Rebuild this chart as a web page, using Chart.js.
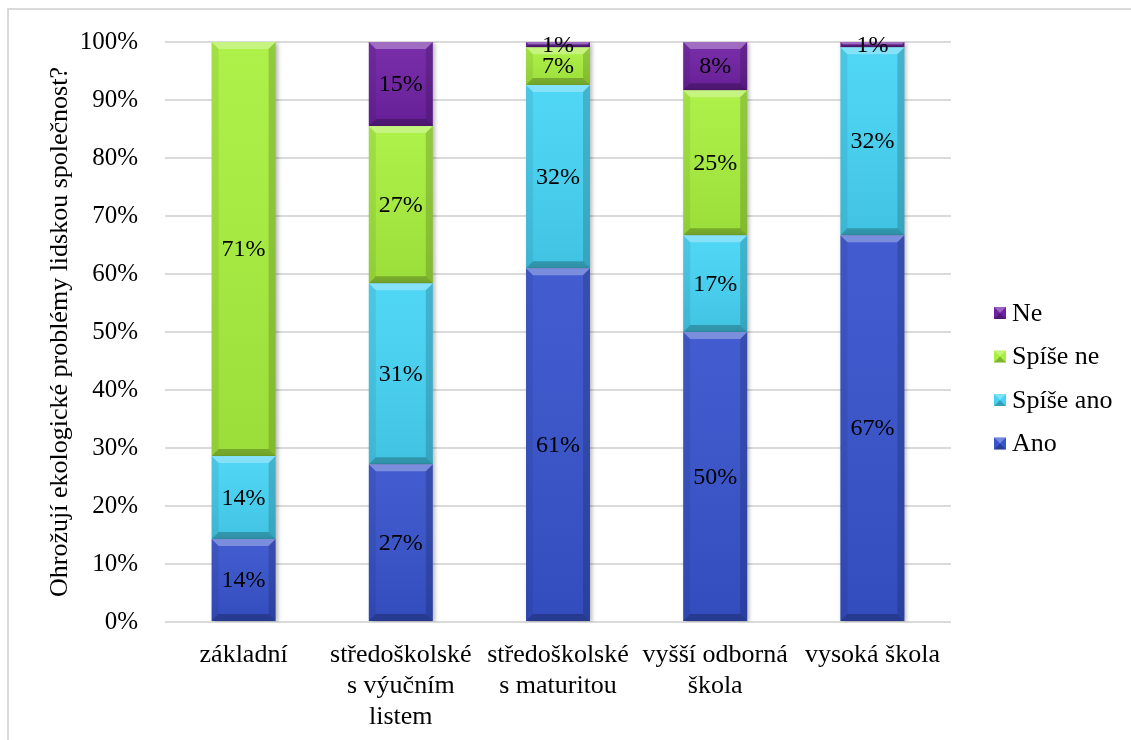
<!DOCTYPE html>
<html lang="cs">
<head>
<meta charset="utf-8">
<title>Ohrožují ekologické problémy lidskou společnost?</title>
<script src="https://cdn.jsdelivr.net/npm/chart.js@4.4.1/dist/chart.umd.min.js"></script>
<style>
  html, body { margin: 0; padding: 0; background: #fff; }
  #chart { display: block; }
  .preload { font-family: "Liberation Serif"; position: absolute; left: -9999px; top: 0; font-size: 24px; }
</style>
</head>
<body>
<span class="preload">Ohrožují 100% Spíše ne</span>
<canvas id="chart" width="1131" height="740"></canvas>
<script>
// vzdělání respondentů (kategorie osy x)
const categories = [
  'základní',
  ['středoškolské', 's výučním', 'listem'],
  ['středoškolské', 's maturitou'],
  ['vyšší odborná', 'škola'],
  'vysoká škola'
];

// podíly odpovědí v % (sloupce do 100 %)
const ano      = [14.3, 27.2, 61.0, 50.0, 66.7];
const spiseAno = [14.3, 31.2, 31.6, 16.7, 32.4];
const spiseNe  = [71.4, 27.1,  6.5, 25.0,  0.0];
const ne       = [ 0.0, 14.5,  0.9,  8.3,  0.9];

const yTicks = [0, 10, 20, 30, 40, 50, 60, 70, 80, 90, 100];

const FONT = '"Liberation Serif", "Times New Roman", "DejaVu Serif", serif';

// white background + thin frame
const framePlugin = {
  id: 'frame',
  beforeDraw(chart) {
    const ctx = chart.ctx;
    ctx.save();
    ctx.fillStyle = '#fff';
    ctx.fillRect(0, 0, chart.width, chart.height);
    ctx.strokeStyle = '#d9d9d9';
    ctx.lineWidth = 2;
    ctx.strokeRect(8, 9, chart.width + 20, chart.height + 20);
    ctx.restore();
  }
};

// soft drop shadow under the bars
const shadowPlugin = {
  id: 'barShadow',
  beforeDatasetsDraw(chart) {
    const ctx = chart.ctx;
    ctx.save();
    ctx.shadowColor = 'rgba(0,0,0,0.28)';
    ctx.shadowBlur = 4;
    ctx.shadowOffsetX = 2;
    ctx.shadowOffsetY = 1;
  },
  afterDatasetsDraw(chart) {
    chart.ctx.restore();
  }
};

// bevel look on every bar segment
const bevelPlugin = {
  id: 'bevel',
  afterDatasetsDraw(chart) {
    const ctx = chart.ctx;
    chart.data.datasets.forEach((ds, di) => {
      const meta = chart.getDatasetMeta(di);
      meta.data.forEach((bar, i) => {
        if (!ds.data[i]) return;
        const p = bar.getProps(['x', 'y', 'base', 'width'], true);
        const l = p.x - p.width / 2, r = p.x + p.width / 2;
        const t = Math.min(p.y, p.base), b = Math.max(p.y, p.base);
        const e = Math.min(7, (b - t) / 2);
        ctx.save();
        const g = ctx.createLinearGradient(0, t, 0, b);
        g.addColorStop(0, 'rgba(255,255,255,0.06)');
        g.addColorStop(1, 'rgba(0,0,0,0.08)');
        ctx.fillStyle = g;
        ctx.fillRect(l, t, r - l, b - t);
        const poly = (pts, fill) => {
          ctx.beginPath();
          ctx.moveTo(pts[0][0], pts[0][1]);
          for (let k = 1; k < pts.length; k++) ctx.lineTo(pts[k][0], pts[k][1]);
          ctx.closePath();
          ctx.fillStyle = fill;
          ctx.fill();
        };
        poly([[l, t], [r, t], [r - e, t + e], [l + e, t + e]], 'rgba(255,255,255,0.3)');
        poly([[l, b], [r, b], [r - e, b - e], [l + e, b - e]], 'rgba(0,0,0,0.24)');
        poly([[l, t], [l + e, t + e], [l + e, b - e], [l, b]], 'rgba(0,0,0,0.07)');
        poly([[r, t], [r - e, t + e], [r - e, b - e], [r, b]], 'rgba(0,0,0,0.16)');
        ctx.restore();
      });
    });
  }
};

// percentage labels in the middle of each segment
const valueLabels = {
  id: 'valueLabels',
  afterDatasetsDraw(chart) {
    const ctx = chart.ctx;
    ctx.save();
    ctx.font = '24px ' + FONT;
    ctx.fillStyle = '#000';
    ctx.textAlign = 'center';
    ctx.textBaseline = 'middle';
    chart.data.datasets.forEach((ds, di) => {
      chart.getDatasetMeta(di).data.forEach((bar, i) => {
        const v = ds.data[i];
        if (!v) return;
        const p = bar.getProps(['x', 'y', 'base'], true);
        ctx.fillText(Math.round(v) + '%', p.x, (p.y + p.base) / 2 + 1);
      });
    });
    ctx.restore();
  }
};

// legend on the right, top-down from the last series
const sideLegend = {
  id: 'sideLegend',
  afterDraw(chart) {
    const ctx = chart.ctx;
    const items = chart.data.datasets.slice().reverse();
    ctx.save();
    ctx.font = '26px ' + FONT;
    ctx.textBaseline = 'middle';
    items.forEach((ds, k) => {
      const cy = 313 + k * 43.5;
      const bx = 994, by = cy - 6, s = 12;
      ctx.fillStyle = ds.backgroundColor;
      ctx.fillRect(bx, by, s, s);
      ctx.fillStyle = 'rgba(255,255,255,0.3)';
      ctx.beginPath();
      ctx.moveTo(bx, by); ctx.lineTo(bx + s, by); ctx.lineTo(bx + s / 2, by + s / 2); ctx.closePath();
      ctx.fill();
      ctx.fillStyle = 'rgba(0,0,0,0.25)';
      ctx.beginPath();
      ctx.moveTo(bx, by + s); ctx.lineTo(bx + s, by + s); ctx.lineTo(bx + s / 2, by + s / 2); ctx.closePath();
      ctx.fill();
      ctx.fillStyle = '#000';
      ctx.fillText(ds.label, 1012, cy + 1);
    });
    ctx.restore();
  }
};

function series(label, data, color) {
  return {
    label,
    data,
    backgroundColor: color,
    borderWidth: 0,
    categoryPercentage: 1,
    barPercentage: 0.407
  };
}

function draw() {
  new Chart(document.getElementById('chart'), {
    type: 'bar',
    data: {
      labels: categories,
      datasets: [
        series('Ano', ano, '#3753cd'),
        series('Spíše ano', spiseAno, '#46d4f5'),
        series('Spíše ne', spiseNe, '#a8f03e'),
        series('Ne', ne, '#6f21a3')
      ]
    },
    options: {
      responsive: false,
      animation: false,
      events: [],
      layout: { padding: { top: 42, right: 180, bottom: 0, left: 0 } },
      plugins: {
        legend: { display: false },
        tooltip: { enabled: false }
      },
      scales: {
        x: {
          stacked: true,
          grid: { display: false, drawTicks: false },
          border: { display: false },
          ticks: {
            color: '#000',
            padding: 18,
            maxRotation: 0,
            autoSkip: false,
            font: { family: FONT, size: 26, lineHeight: 1.19 }
          },
          afterFit(scale) { scale.height = 118; }
        },
        y: {
          stacked: true,
          min: 0,
          max: 100,
          afterBuildTicks(scale) { scale.ticks = yTicks.map(v => ({ value: v })); },
          grid: { color: '#dadada', lineWidth: 2, drawTicks: false },
          border: { display: false },
          ticks: {
            color: '#000',
            padding: 27,
            font: { family: FONT, size: 25 },
            callback: v => v + '%'
          },
          title: {
            display: true,
            text: 'Ohrožují ekologické problémy lidskou společnost?',
            color: '#000',
            font: { family: FONT, size: 26 },
            padding: { top: 45, bottom: 0 }
          },
          afterFit(scale) { scale.width = 165; }
        }
      }
    },
    plugins: [framePlugin, shadowPlugin, bevelPlugin, valueLabels, sideLegend]
  });
}

// wait for the serif face so canvas text doesn't fall back
if (document.fonts && document.fonts.load) {
  document.fonts.load('24px "Liberation Serif"').then(draw, draw);
} else {
  draw();
}
</script>
</body>
</html>
